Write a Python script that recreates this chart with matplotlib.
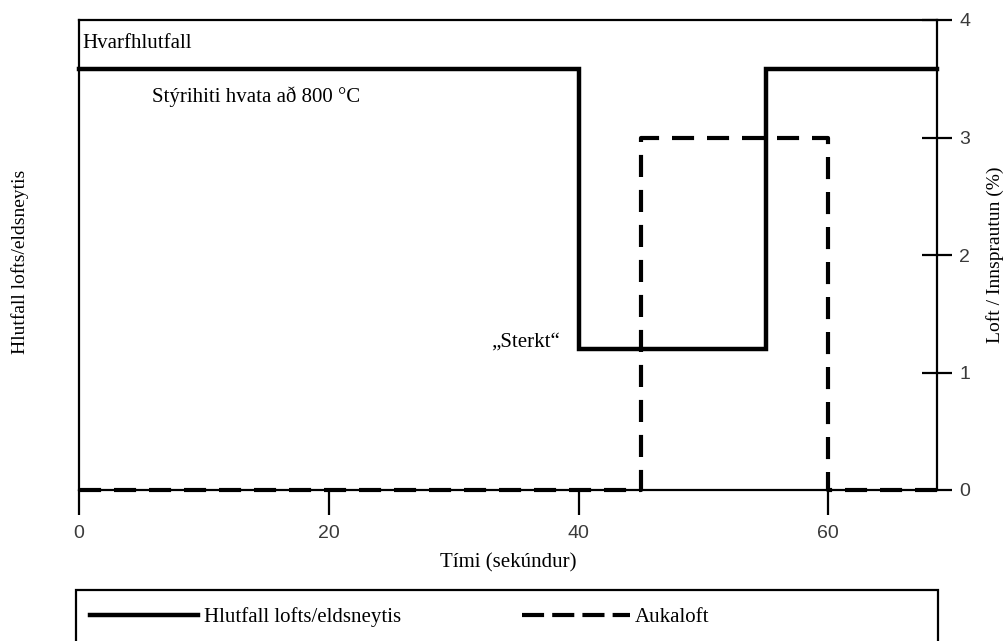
import matplotlib.pyplot as plt
from matplotlib.lines import Line2D
from matplotlib.patches import Rectangle

# time steps (s) and levels
ratio_time = [0, 40, 55, 68.7]
ratio_level = [3.58, 1.2, 3.58, 3.58]   # air/fuel ratio (no scale on left axis)
air_time = [0, 45, 60, 68.7]
air_level = [0, 3, 0, 0]                # extra air / injection (%)

x_ticks = [0, 20, 40, 60]
y_ticks = [0, 1, 2, 3, 4]

serif = 'Liberation Serif'
sans = 'Liberation Sans'
dash = (0, (5.3, 3.1))

fig = plt.figure(figsize=(10.08, 6.41), dpi=100)
W, H = 1008, 641
ax = fig.add_axes([79 / W, 1 - 490 / H, (937 - 79) / W, (490 - 20) / H])

ax.plot(ratio_time, ratio_level, drawstyle='steps-post', color='black', lw=3.2,
        solid_joinstyle='miter', clip_on=False, zorder=3)
ax.plot(air_time, air_level, drawstyle='steps-post', color='black', lw=3.0,
        linestyle=dash, dash_capstyle='butt', clip_on=False, zorder=3)

ax.set_xlim(0, 68.7)
ax.set_ylim(0, 4)
ax.set_xticks(x_ticks)
ax.set_yticks(y_ticks)
ax.yaxis.tick_right()

for s in ax.spines.values():
    s.set_linewidth(1.6)
ax.tick_params(axis='x', direction='out', length=18, width=1.6, pad=7,
               labelsize=14, labelcolor='#3a3a3a')
ax.tick_params(axis='y', direction='inout', length=22, width=1.6, pad=5,
               labelsize=14, labelcolor='#3a3a3a')
for lab in ax.get_xticklabels() + ax.get_yticklabels():
    lab.set_fontfamily(sans)

# texts inside the plot
fig.text(82 / W, 1 - 43 / H, 'Hvarfhlutfall', family=serif, fontsize=15, va='center')
fig.text(152 / W, 1 - 97 / H, 'Stýrihiti hvata að 800 °C', family=serif, fontsize=15, va='center')
fig.text(560 / W, 1 - 342 / H, '\u201eSterkt\u201c', family=serif, fontsize=15,
         va='center', ha='right')

# axis labels
fig.text(20 / W, 1 - 262 / H, 'Hlutfall lofts/eldsneytis', family=serif, fontsize=14,
         rotation=90, va='center', ha='center')
fig.text(995 / W, 1 - 255 / H, 'Loft / Innsprautun (%)', family=serif, fontsize=14,
         rotation=90, va='center', ha='center')
fig.text(508 / W, 1 - 563 / H, 'Tími (sekúndur)', family=serif, fontsize=15,
         va='center', ha='center')

# legend below, in a box cut by the image edge
handles = [Line2D([], [], color='black', lw=3.2),
           Line2D([], [], color='black', lw=3.0, linestyle=(0, (5.3, 1.95)),
                  dash_capstyle='butt')]
fig.legend(handles, ['Hlutfall lofts/eldsneytis', 'Aukaloft'], ncol=2, frameon=False,
           loc='center left', bbox_to_anchor=(90 / W, 1 - 617 / H),
           prop={'family': serif, 'size': 15}, handlelength=5.2, handletextpad=0.25,
           columnspacing=5.8, borderpad=0, borderaxespad=0)
fig.add_artist(Rectangle((76 / W, -0.1), (938 - 76) / W, 0.1 + (641 - 590) / H,
                         transform=fig.transFigure, fill=False, lw=1.6, color='black'))

fig.savefig('out.png', dpi=100)
